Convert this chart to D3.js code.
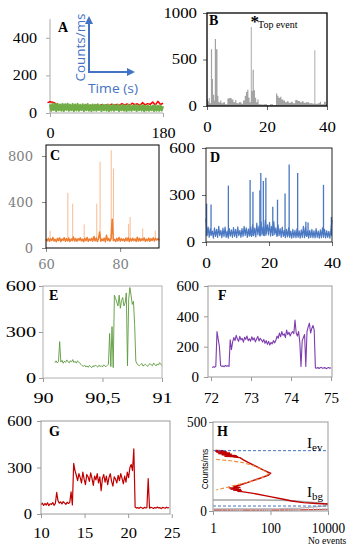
<!DOCTYPE html>
<html>
<head>
<meta charset="utf-8">
<script src="https://cdn.jsdelivr.net/npm/d3@7"></script>
<style>
body { margin: 0; background: #fff; }
</style>
</head>
<body>
<svg id="fig" width="353" height="550"></svg>
<script>
var serif = "'Liberation Serif','Times New Roman',serif",
    blue = "#4472c4";

// A: two background traces, 0-180 s
var aRed = [55,60,57,52,40,38,42,36,40,35,38,40,36,39,37,41,38,40,39,42,38,44,40,43,39,47,41,45,40,50,42,48,41,52,44,49,40,55,43,50,46,58,42,62,45,52];
var aGreen = [46,12,50,16,47,10,49,15,45,13,48,11,46,17,49,12,44,15,47,10,45,14,48,12,43,16,46,11,44,15,47,13,42,10,45,14,43,12,46,16,
              41,11,44,15,42,13,45,10,40,14,43,12,41,16,44,11,40,15,42,13,39,10,43,14,41,12,38,16,42,11,40,15,39,13,41,10,38,14,40,12,
              37,15,39,11,41,13,38,12,40,14,36];

// B: binned counts (step), 0-40 s
var bTime = [0,0.3,0.6,0.9,1.3,1.7,2.0,2.4,2.6,3.0,3.5,3.8,4.4,4.8,5.4,6.0,6.8,7.4,8.2,8.8,9.4,9.8,10.6,11.5,12.0,12.6,13.0,13.4,13.8,14.2,14.6,14.9,15.2,15.6,16.0,16.4,16.8,17.2,18,19,20,21,22,23.0,23.4,23.8,24.4,24.8,25.4,26.0,26.6,27.2,28.0,28.6,29.4,30.2,31.0,31.6,32.2,33.0,34.0,35.2,35.8,36.1,37.0,37.6,38.0,39.0,39.6,40];
var bCounts = [75,50,85,30,610,290,120,60,720,610,110,40,60,30,40,20,80,85,70,40,65,30,40,25,60,110,150,175,90,40,850,160,390,170,90,40,70,20,15,20,12,18,10,135,110,90,100,70,60,40,50,35,45,30,65,55,40,50,35,40,30,25,600,25,30,45,20,45,20,20];

// C: baseline 60-90.5 s and spikes
var cBase = [78,62,85,58,80,65,92,60,76,55, 84,63,88,57,79,66,90,59,82,61, 86,56,78,64,95,60,83,58,80,67, 88,62,77,55,85,63,91,58,79,65,
             84,60,100,62,87,57,81,140,59,78, 63,86,55,110,65,83,60,80,250,64, 76,57,84,62,92,60,81,65,78,58, 87,63,90,56,82,61,85,64,79,57,
             93,60,84,62,80,66,88,58,77,63, 86,59,82,65,90,61,84,70,80,66];
var cSpikeTime = [61.1,65.9,67.2,70.3,73.7,74.6,77.6,78.2,82.3,82.7,86.1,89.5];
var cSpikeHeight = [150,480,385,205,385,750,850,690,210,270,170,150];

// D: baseline 0-40 s and spikes
var dBase = [150,40,95,30,85,45,70,25,90,35, 80,30,100,40,75,28,88,35,95,30, 70,25,85,38,78,30,92,35,80,28, 96,40,75,30,85,35,100,42,90,30,
             82,38,95,35,110,40,88,32,120,45, 100,38,130,50,95,40,140,55,110,45, 125,38,100,42,130,48,90,35,110,40, 85,30,95,35,75,28,80,32,90,30,
             70,25,80,30,75,28,85,30,72,25, 78,30,100,28,95,35,70,25,75,30, 80,28,72,26,85,30,70,25,78,28, 90,30,80,26,72,30,68,25,80,140];
var dSpikeTime = [0.2,1.6,7.1,14.0,14.9,17.1,17.4,18.2,19.0,21.2,22.7,25.1,26.4,29.1,31.7,32.4,37.3,39.8];
var dSpikeHeight = [245,240,360,395,320,330,440,390,410,225,270,310,495,440,130,125,365,160];

// E: 90.10-91.00 s
var eCounts = [100,112,98,108,237,104,115,96,110,102,118,106,99,113,104,120,101,109,97,112,105,
               95,88,80,76,84,72,79,70,82,75,68,80,74,85,77,71,83,76,80,72,86,78,74,82,90,
               290,75,335,68,540,
               520,495,470,540,455,505,525,470,490,555,80,510,590,540,480,500,350,
               110,92,85,80,88,95,78,84,90,82,76,88,94,85,80,98,87,79,92,84,100,88,82];

// F: 72.03-75.00 s
var fCounts = [62,68,64,70, 300,250,200, 75,70,73,68,76,71,74,70, 245,180,230,
               260,240,275,250,235,268,245,255,230,262,248,270,240,252,236,265,244,258,232,250,268,238,255,245,230,248,222,240,215,235,210,228,218,240,225,
               240,270,255,290,265,300,275,285,260,310,280,295,270,290,300,285,375,290,270,300,230,70,240,260,280,70,
               300,330,355,290,320,340,310,
               60,58,63,56,61,64,57,60,62,55,59,63,58,61];

// G: 10.0-24.7 s
var gCounts = [60,70,55,68,58,72,54,66,62,74,56,68, 139, 85,70,78,65,80,72,62,76,68,74,143,58, 326,
               280,250,215,260,235,200,270,225,190,255,240,210,265,230,185,245,220,260,200,240,150,230,255,205,245,190,235,260,210,180,240,225,200,250,215,260,230,195,245,205,270,235,300,
               320,280,420,
               45,38,42,36,44,40,35,43,39,41,229,37,44,40,36,42,38,45,39,41,35,43,40,37,44,39,42];

// H: intensity histograms (number of events vs counts/ms)
var hEvents = [1.2,2.3,1.2,3.0,1.3,3.9,1.5,4.5,2,6.7,2.5,7.6,5,8.7, 11.4,19.5,33,57,100,85,43,19.5,8.7,5.1,
               9,3.5,8,4,9.5,5,10,7, 10,25,97,282,550,1400,4000,10000];
var hLevel = [340,339,336,333,330,326,323,319,316,311,308,305,303,300, 287,268,249,230,212,202,184,165,146,137,
              133,130,127,124,121,118,114,111, 109,99,81,66,56,47,42,39];
var hFitEvents = [1.3,4,11,25,45,70,85,60,33,15,8,4.5,3,1.8,1.3];
var hFitLevel = [290,282,272,255,236,220,208,192,175,160,150,140,132,124,118];
var hBgEvents = [1,30,200,600,1500,4000,10000];
var hBgLevel = [62,62,61,58,52,46,40];
var hBg2Events = [1,200,1000,3000,10000];
var hBg2Level = [12,13,16,22,30];
var hLowEvents = [1,100,1000,10000];
var hLowLevel = [5,5,6,8];
var hIev = 339, hIbg = 28;

var svg = d3.select("#fig");

function panel(o) {
  var x = (o.log ? d3.scaleLog() : d3.scaleLinear()).domain(o.xd).range([o.l, o.r]);
  var y = d3.scaleLinear().domain(o.yd).range([o.b, o.t]);
  var g = svg.append("g");
  var font = o.font || serif, fs = o.fs || 14, sx = o.sx || 1, tc = o.tc || "#000";

  function style(a) {
    a.attr("font-family", null).attr("font-size", null);
    a.select(".domain").remove();
    a.selectAll(".tick line").attr("stroke", o.tick || "#999");
    a.selectAll("text").style("font-family", font).style("font-size", fs + "px").attr("fill", tc)
      .each(function() {
        var L = this.getComputedTextLength();
        d3.select(this).attr("textLength", L * sx).attr("lengthAdjust", "spacingAndGlyphs");
      });
  }
  var ax = g.append("g").attr("transform", "translate(0," + o.b + ")")
      .call(d3.axisBottom(x).tickValues(o.xt).tickSize(4).tickPadding(o.xpad || 10).tickFormat(o.xf || d3.format("d")));
  style(ax);
  var ay = g.append("g").attr("transform", "translate(" + o.l + ",0)")
      .call(d3.axisLeft(y).tickValues(o.yt).tickSize(4).tickPadding(o.ypad || 6).tickFormat(d3.format("d")));
  style(ay);

  var data = g.append("g");
  if (o.frame) {
    g.append("rect").attr("x", o.l).attr("y", o.t).attr("width", o.r - o.l).attr("height", o.b - o.t)
      .attr("fill", "none").attr("stroke", o.frame).attr("stroke-width", o.fw || 1);
  }
  g.append("text").attr("x", o.lx).attr("y", o.ly).text(o.name)
    .style("font-family", serif).attr("font-weight", "bold").attr("font-size", 14);
  return {g: g, data: data, x: x, y: y};
}

function trace(p, t0, t1, vals, color, w, op) {
  var n = vals.length;
  var line = d3.line()
      .x(function(d, i) { return p.x(t0 + (t1 - t0) * i / (n - 1)); })
      .y(function(d) { return p.y(d); });
  return p.data.append("path").attr("d", line(vals)).attr("fill", "none")
    .attr("stroke", color).attr("stroke-width", w).attr("stroke-opacity", op || 1)
    .attr("stroke-linejoin", "round");
}

function spikes(p, times, heights, base, color, w, op) {
  p.data.selectAll(null).data(times).enter().append("line")
    .attr("x1", function(d) { return p.x(d); }).attr("x2", function(d) { return p.x(d); })
    .attr("y1", p.y(base)).attr("y2", function(d, i) { return p.y(heights[i]); })
    .attr("stroke", color).attr("stroke-width", w).attr("stroke-opacity", op || 1);
}

function xyLine(p, xs, ys, color, w, dash) {
  var line = d3.line().x(function(d, i) { return p.x(xs[i]); }).y(function(d) { return p.y(d); });
  return p.data.append("path").attr("d", line(ys)).attr("fill", "none")
    .attr("stroke", color).attr("stroke-width", w).attr("stroke-dasharray", dash || null);
}

// ---- A
var pA = panel({l: 50, r: 163, t: 19, b: 113, xd: [0, 180], yd: [0, 500], xt: [0, 180], yt: [0, 200, 400],
  ypad: 9, xpad: 11, sx: 1.15, name: "A", lx: 58, ly: 32, tick: "#aaa"});
pA.g.insert("path", ":first-child").attr("d", "M50,19V113H163").attr("fill", "none").attr("stroke", "#aaa");
trace(pA, -4, 180, aRed, "#ff0000", 1.5);
trace(pA, 0, 180, aGreen, "#70ad47", 2.2);

// arrows legend
var defs = svg.append("defs");
defs.append("marker").attr("id", "ah").attr("viewBox", "0 0 10 10").attr("refX", 5).attr("refY", 5)
  .attr("markerWidth", 4).attr("markerHeight", 4).attr("orient", "auto")
  .append("path").attr("d", "M0,0L10,5L0,10z").attr("fill", blue);
svg.append("path").attr("d", "M89,72V20").attr("stroke", blue).attr("stroke-width", 2).attr("marker-end", "url(#ah)");
svg.append("path").attr("d", "M88,72H131").attr("stroke", blue).attr("stroke-width", 2).attr("marker-end", "url(#ah)");
svg.append("text").attr("transform", "translate(85,47.5) rotate(-90)").attr("text-anchor", "middle")
  .style("font-family", "'Open Sans',sans-serif").attr("font-size", 13).attr("fill", blue)
  .attr("textLength", 68).attr("lengthAdjust", "spacingAndGlyphs").text("Counts/ms");
svg.append("text").attr("x", 88).attr("y", 93).style("font-family", "'Open Sans',sans-serif")
  .attr("font-size", 13).attr("fill", blue).attr("textLength", 50).attr("lengthAdjust", "spacingAndGlyphs").text("Time (s)");

// ---- B
var pB = panel({l: 207, r: 327, t: 13, b: 106, xd: [0, 40], yd: [0, 1000], xt: [0, 20, 40], yt: [0, 500, 1000],
  ypad: 6, xpad: 12, sx: 1.2, frame: "#000", fw: 1.3, tick: "#666", name: "B", lx: 209, ly: 25});
pB.data.append("path")
  .attr("d", d3.area().curve(d3.curveStepAfter)
    .x(function(d, i) { return pB.x(bTime[i]); }).y0(pB.y(0)).y1(function(d) { return pB.y(d); })(bCounts))
  .attr("fill", "#a3a3a3");
svg.append("text").attr("x", 250.5).attr("y", 27).style("font-family", serif).attr("font-size", 17)
  .attr("font-weight", "bold").text("*");
svg.append("text").attr("x", 258).attr("y", 28).style("font-family", serif).attr("font-size", 10).text("Top event");

// ---- C
var pC = panel({l: 46, r: 159, t: 145, b: 248, xd: [60, 90.5], yd: [0, 896], xt: [60, 80], yt: [0, 400, 800],
  font: "'DejaVu Serif',serif", fs: 12.5, sx: 1.05, tc: "#808080", ypad: 9, xpad: 8,
  frame: "#000", tick: "#888", name: "C", lx: 50, ly: 160});
spikes(pC, cSpikeTime, cSpikeHeight, 80, "#f4a064", 0.8, 0.9);
trace(pC, 60, 90.5, cBase, "#ed7d31", 1.5);

// ---- D
var pD = panel({l: 206, r: 332, t: 148, b: 242, xd: [0, 40], yd: [0, 600], xt: [0, 20, 40], yt: [0, 300, 600],
  fs: 15, sx: 1.15, ypad: 7, xpad: 11, frame: "#222", tick: "#666", name: "D", lx: 210, ly: 162});
spikes(pD, dSpikeTime, dSpikeHeight, 40, "#4a78c2", 1.3);
trace(pD, 0, 40, dBase, "#4a78c2", 1.2);

// ---- E
var pE = panel({l: 43, r: 162, t: 286, b: 378, xd: [90, 91], yd: [0, 600], xt: [90, 90.5, 91], yt: [0, 300, 600],
  xf: function(d) { return d3.format("~g")(d).replace(".", ","); },
  fs: 15, sx: 1.35, ypad: 3, xpad: 10, frame: "#b0b0b0", tick: "#999", name: "E", lx: 49, ly: 300});
trace(pE, 90.1, 91.0, eCounts, "#5b9a3c", 0.9);

// ---- F
var pF = panel({l: 208, r: 332, t: 286, b: 377, xd: [71.925, 75.025], yd: [0, 600], xt: [72, 73, 74, 75], yt: [0, 200, 400, 600],
  fs: 15, sx: 1.0, ypad: 5, xpad: 11, frame: "#999", tick: "#999", name: "F", lx: 218, ly: 300});
trace(pF, 72.03, 75.0, fCounts, "#7d3cb0", 1.1);

// ---- G
var pG = panel({l: 41, r: 170, t: 421, b: 514, xd: [10, 24.8], yd: [0, 600], xt: [10, 15, 20, 25], yt: [0, 300, 600],
  fs: 15, sx: 1.1, ypad: 5, xpad: 9, frame: "#999", tick: "#999", name: "G", lx: 49, ly: 436});
trace(pG, 10, 24.7, gCounts, "#c00000", 1.2);

// ---- H
var pH = panel({l: 213, r: 328, t: 422, b: 511, log: true, xd: [1, 10000], yd: [0, 500], xt: [1, 100, 10000], yt: [0, 500],
  fs: 14, sx: 0.95, ypad: 2, xpad: 8, frame: "#999", tick: "#999", name: "H", lx: 217, ly: 436});
pH.g.append("g").attr("transform", "translate(0,511)")
  .call(d3.axisBottom(pH.x).tickValues(pH.x.ticks()).tickSize(-3).tickFormat(""))
  .call(function(a) { a.select(".domain").remove(); a.selectAll("line").attr("stroke", "#bbb"); });
xyLine(pH, hBgEvents, hBgLevel, "#a6a6a6", 1.5);
xyLine(pH, hBg2Events, hBg2Level, "#b5b5b5", 1.2);
xyLine(pH, hLowEvents, hLowLevel, "#c00000", 1);
xyLine(pH, hEvents, hLevel, "#c00000", 1.4);
xyLine(pH, hFitEvents, hFitLevel, "#f08c3c", 1.1, "4,2");
[hIev, hIbg].forEach(function(v) {
  pH.data.append("line").attr("x1", 213).attr("x2", 328).attr("y1", pH.y(v)).attr("y2", pH.y(v))
    .attr("stroke", blue).attr("stroke-width", 1).attr("stroke-dasharray", "3,2");
});
var iev = svg.append("text").attr("x", 307).attr("y", 448).style("font-family", serif).attr("font-size", 15);
iev.append("tspan").text("I");
iev.append("tspan").attr("dy", 3).attr("font-size", 11).text("ev");
var ibg = svg.append("text").attr("x", 307).attr("y", 497).style("font-family", serif).attr("font-size", 15);
ibg.append("tspan").text("I");
ibg.append("tspan").attr("dy", 3).attr("font-size", 11).text("bg");
svg.append("text").attr("transform", "translate(207.5,469) rotate(-90)").attr("text-anchor", "middle")
  .style("font-family", "'Liberation Sans',Arial,sans-serif").attr("font-size", 8.5).text("Counts/ms");
svg.append("text").attr("x", 308).attr("y", 544).style("font-family", serif).attr("font-size", 9.5).text("No events");
</script>
</body>
</html>
